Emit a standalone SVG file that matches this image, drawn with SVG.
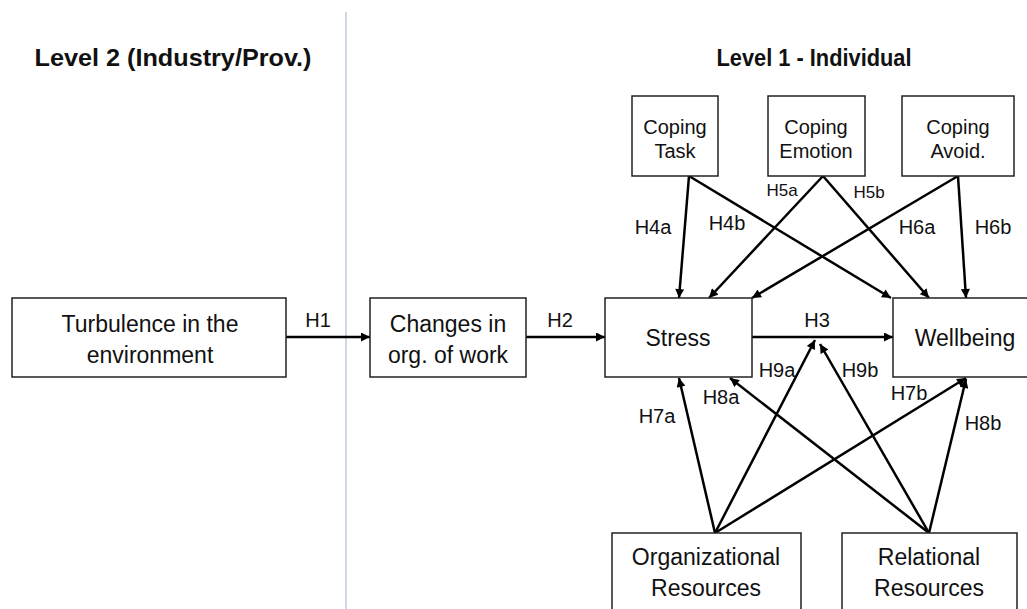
<svg xmlns="http://www.w3.org/2000/svg" width="1027" height="609" viewBox="0 0 1027 609">
<defs>
<marker id="ah" viewBox="0 0 10 10" refX="10" refY="5" markerWidth="10" markerHeight="9" markerUnits="userSpaceOnUse" orient="auto">
<path d="M0,0 L10,5 L0,10 z" fill="#000"/>
</marker>
<style>
.box{fill:#fff;stroke:#222;stroke-width:1.5}
.t{font-family:"Liberation Sans",Arial,sans-serif;font-size:23px;fill:#111;text-anchor:middle}
.c{font-family:"Liberation Sans",Arial,sans-serif;font-size:20px;fill:#111;text-anchor:middle}
.h{font-family:"Liberation Sans",Arial,sans-serif;font-size:20px;fill:#111;text-anchor:middle}
.hs{font-family:"Liberation Sans",Arial,sans-serif;font-size:17px;fill:#111;text-anchor:middle}
.hd{font-family:"Liberation Sans",Arial,sans-serif;font-size:24px;font-weight:bold;fill:#111;text-anchor:middle}
.e{stroke:#000;stroke-width:2.5;fill:none;marker-end:url(#ah)}
</style>
</defs>
<rect width="1027" height="609" fill="#fff"/>
<line x1="346" y1="12" x2="346" y2="609" stroke="#a9bfd8" stroke-width="1.2"/>
<text class="hd" x="173" y="66" textLength="277" lengthAdjust="spacingAndGlyphs">Level 2 (Industry/Prov.)</text>
<text class="hd" x="814" y="66" textLength="195" lengthAdjust="spacingAndGlyphs">Level 1 - Individual</text>

<g id="connectors">
<line class="e" x1="286" y1="337" x2="370" y2="337"/>
<line class="e" x1="526" y1="337" x2="605" y2="337"/>
<line class="e" x1="752" y1="337" x2="893" y2="337"/>
<line class="e" x1="689" y1="176" x2="679" y2="298"/>
<line class="e" x1="689" y1="176" x2="891" y2="298"/>
<line class="e" x1="823" y1="176" x2="709" y2="298"/>
<line class="e" x1="823" y1="176" x2="929" y2="298"/>
<line class="e" x1="958" y1="176" x2="752" y2="298"/>
<line class="e" x1="958" y1="176" x2="966" y2="298"/>
<line class="e" x1="715" y1="533" x2="679" y2="378"/>
<line class="e" x1="715" y1="533" x2="815" y2="340"/>
<line class="e" x1="715" y1="533" x2="966" y2="378"/>
<line class="e" x1="929" y1="533" x2="730" y2="378"/>
<line class="e" x1="929" y1="533" x2="820" y2="344"/>
<line class="e" x1="929" y1="533" x2="966" y2="379"/>
<text class="h" x="318" y="327">H1</text>
<text class="h" x="560" y="327">H2</text>
<text class="h" x="817" y="327">H3</text>
<text class="h" x="653" y="234">H4a</text>
<text class="h" x="727" y="230">H4b</text>
<text class="hs" x="782" y="196">H5a</text>
<text class="hs" x="869" y="198">H5b</text>
<text class="h" x="917" y="234">H6a</text>
<text class="h" x="993" y="234">H6b</text>
<text class="h" x="657" y="423">H7a</text>
<text class="h" x="909" y="400">H7b</text>
<text class="h" x="721" y="404">H8a</text>
<text class="h" x="983" y="430">H8b</text>
<text class="h" x="777" y="377">H9a</text>
<text class="h" x="860" y="377">H9b</text>
</g>

<g id="turbulence">
<rect class="box" x="12" y="298" width="274" height="79"/>
<text class="t" x="150" y="332">Turbulence in the</text>
<text class="t" x="150" y="363">environment</text>
</g>
<g id="changes">
<rect class="box" x="370" y="298" width="156" height="79"/>
<text class="t" x="448" y="332">Changes in</text>
<text class="t" x="448" y="363">org. of work</text>
</g>
<g id="stress">
<rect class="box" x="605" y="298" width="147" height="79"/>
<text class="t" x="678" y="346">Stress</text>
</g>
<g id="wellbeing">
<rect class="box" x="893" y="298" width="140" height="79"/>
<text class="t" x="965" y="346">Wellbeing</text>
</g>
<g id="coping-task">
<rect class="box" x="632" y="96" width="86" height="80"/>
<text class="c" x="675" y="134">Coping</text>
<text class="c" x="675" y="158">Task</text>
</g>
<g id="coping-emotion">
<rect class="box" x="768" y="96" width="97" height="80"/>
<text class="c" x="816" y="134">Coping</text>
<text class="c" x="816" y="158">Emotion</text>
</g>
<g id="coping-avoid">
<rect class="box" x="902" y="96" width="112" height="80"/>
<text class="c" x="958" y="134">Coping</text>
<text class="c" x="958" y="158">Avoid.</text>
</g>
<g id="org-resources">
<rect class="box" x="612" y="533" width="189" height="80"/>
<text class="t" x="706" y="565">Organizational</text>
<text class="t" x="706" y="596">Resources</text>
</g>
<g id="rel-resources">
<rect class="box" x="842" y="533" width="175" height="80"/>
<text class="t" x="929" y="565">Relational</text>
<text class="t" x="929" y="596">Resources</text>
</g>
</svg>
